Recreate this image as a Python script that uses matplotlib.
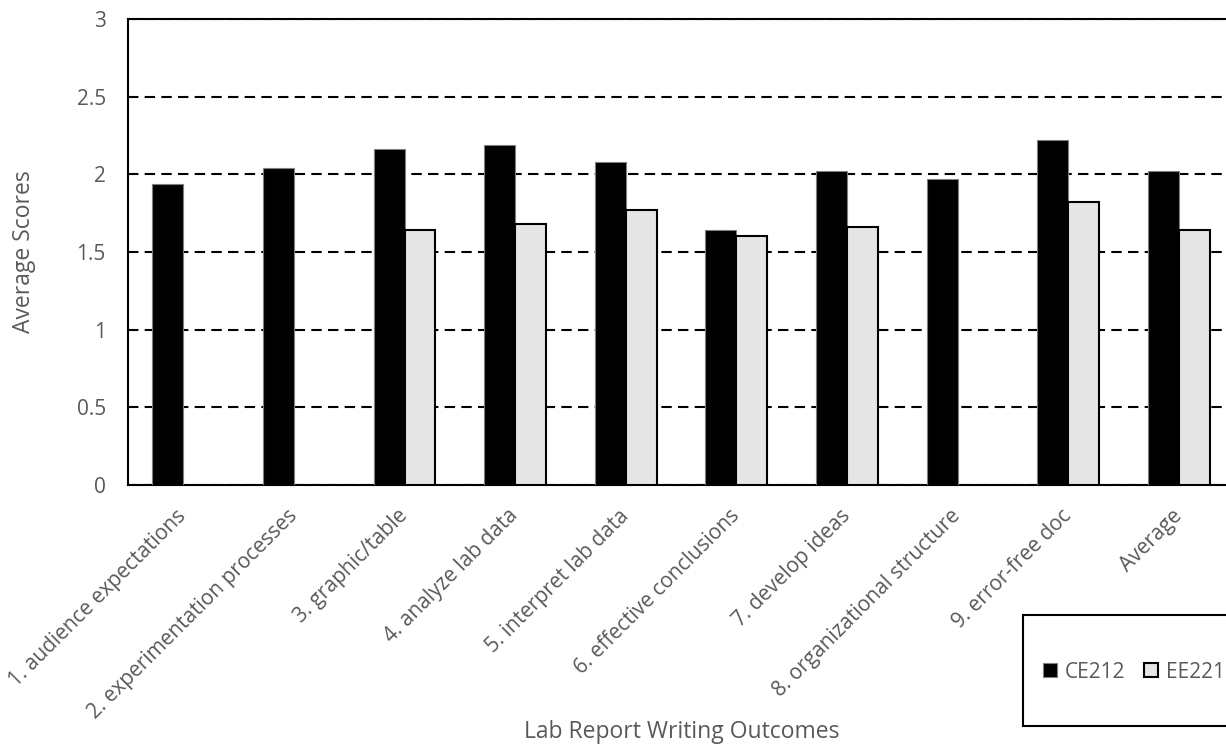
import numpy as np
import matplotlib.pyplot as plt
from matplotlib.patches import Rectangle

## Lab report writing outcomes, average scores per course
outcomes = ['1. audience expectations', '2. experimentation processes', '3. graphic/table',
            '4. analyze lab data', '5. interpret lab data', '6. effective conclusions',
            '7. develop ideas', '8. organizational structure', '9. error-free doc', 'Average']
ce212 = [1.94, 2.04, 2.16, 2.19, 2.08, 1.64, 2.02, 1.97, 2.22, 2.02]
ee221 = [np.nan, np.nan, 1.64, 1.68, 1.77, 1.60, 1.66, np.nan, 1.82, 1.64]

plt.rcParams['font.family'] = ['Open Sans', 'DejaVu Sans']
grey_txt = '#595959'
W, H = 1226, 744

fig = plt.figure(figsize=(W/100, H/100), dpi=100)
# axes runs past the right edge of the picture, like the cropped original
ax = fig.add_axes([128/W, 1 - 485/H, (1234-128)/W, (485-19)/H])

x = np.arange(len(outcomes))
w = 0.28
ax.bar(x - w/2, ce212, w, color='black', edgecolor='#7f7f7f', linewidth=0.8, label='CE212', zorder=3)
ax.bar(x + w/2, ee221, w, color='#e5e5e5', edgecolor='black', linewidth=1.5, label='EE221', zorder=3)

ax.set_xlim(-0.5, len(outcomes) - 0.5)
ax.set_ylim(0, 3)
ax.set_yticks([0, 0.5, 1, 1.5, 2, 2.5, 3])
ax.set_yticklabels(['0', '0.5', '1', '1.5', '2', '2.5', '3'])
ax.yaxis.grid(True, color='black', linestyle=(0, (5, 3)), linewidth=1.5, zorder=0)
ax.set_axisbelow(True)

ax.set_xticks(x)
ax.set_xticklabels(outcomes, rotation=45, ha='right', va='center', rotation_mode='anchor')
ax.tick_params(axis='both', length=0, colors=grey_txt)
ax.tick_params(axis='y', labelsize=15, pad=16)
ax.tick_params(axis='x', labelsize=15, pad=20)

for s in ['left', 'bottom', 'top']:
    ax.spines[s].set_color('black')
    ax.spines[s].set_linewidth(1.5)
ax.spines['right'].set_visible(False)

fig.text(24/W, 1 - 252/H, 'Average Scores', fontsize=16.5, color=grey_txt,
         rotation=90, ha='center', va='center')
fig.text(682/W, 1 - 738/H, 'Lab Report Writing Outcomes', fontsize=16.5, color=grey_txt,
         ha='center', va='baseline')

## legend box drawn by hand, cut by the right edge
fig.patches.append(Rectangle((1023/W, 1 - 726/H), 300/W, 111/H, transform=fig.transFigure,
                             facecolor='white', edgecolor='black', linewidth=1.5, zorder=5))
leg = fig.legend(loc='center left', bbox_to_anchor=(1043/W, 1 - 672/H), ncol=2,
                 fontsize=15, frameon=False, handlelength=0.65, handleheight=0.65,
                 handletextpad=0.4, columnspacing=0.9, borderpad=0, borderaxespad=0)
leg.set_zorder(6)
for t in leg.get_texts():
    t.set_color(grey_txt)

fig.savefig('out.png', dpi=100)
